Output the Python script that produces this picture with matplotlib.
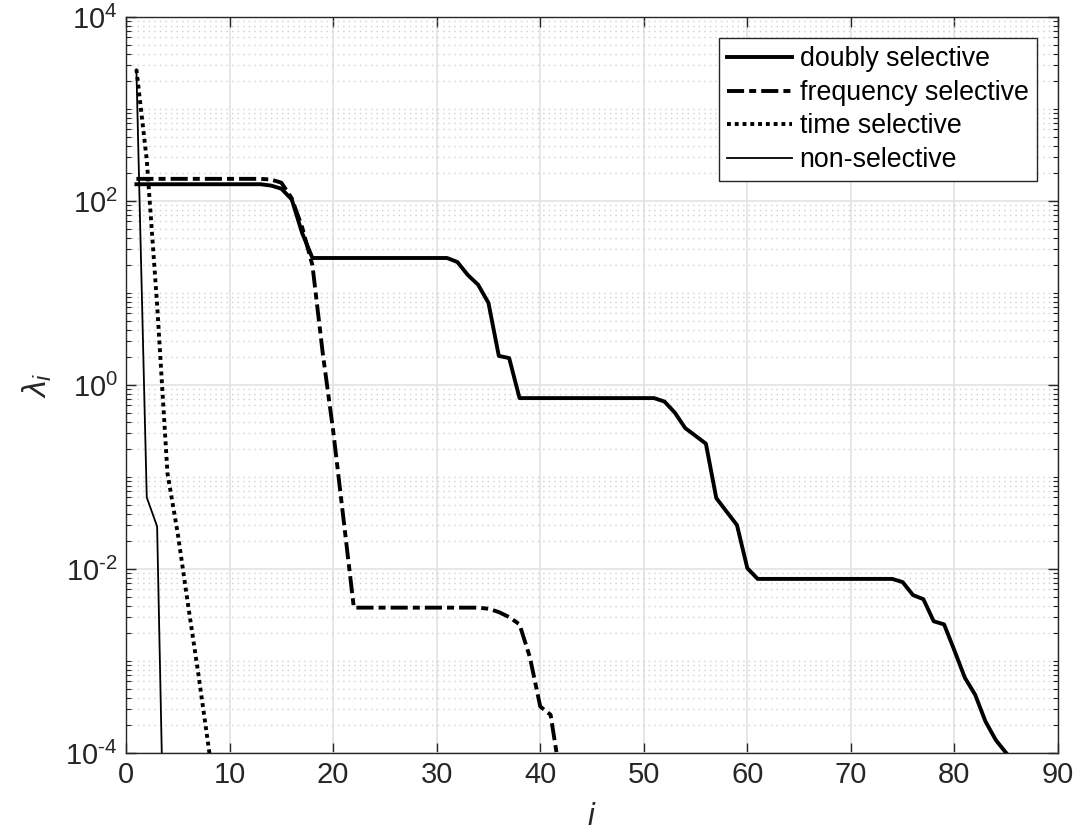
import matplotlib
matplotlib.use('Agg')
import matplotlib.pyplot as plt
import numpy as np
from matplotlib.ticker import FixedLocator, NullFormatter

plt.rcParams['font.family'] = ['Liberation Sans', 'DejaVu Sans']
plt.rcParams['mathtext.fontset'] = 'custom'
plt.rcParams['mathtext.rm'] = 'Liberation Sans'
plt.rcParams['mathtext.it'] = 'Liberation Sans:italic'

# eigenvalue profiles (index, value)
i_dbl = [1, 13, 14, 15, 16, 17, 18, 31, 32, 33, 34, 35, 36, 37, 38, 51, 52, 53, 54, 55,
         56, 57, 58, 59, 60, 61, 74, 75, 76, 77, 78, 79, 80, 81, 82, 83, 84, 85]
v_dbl = [152, 152, 147, 136, 104, 45, 24, 24, 21.7, 15.7, 12.3, 7.8, 2.07, 1.96, 0.72, 0.72, 0.66, 0.5, 0.34, 0.28,
         0.23, 0.059, 0.042, 0.030, 0.0102, 0.0078, 0.0078, 0.0072, 0.0052, 0.0047, 0.0027, 0.0025, 0.0013, 6.6e-4, 4.3e-4, 2.2e-4, 1.38e-4, 1.0e-4]

i_frq = [1, 13, 14, 15, 16, 17, 18, 19, 20, 21, 22, 34, 35, 36, 37, 38, 39, 40, 41, 42]
v_frq = [174, 174, 171, 158, 107, 52, 20, 2.2, 0.32, 0.035, 0.0038, 0.0038, 0.0037, 0.0034, 0.003, 0.0025, 0.0011, 3.2e-4, 2.6e-4, 5e-5]

i_tim = [1, 2, 3, 4, 5, 6, 7, 8, 9]
v_tim = [2700, 280, 7.5, 0.11, 0.024, 0.004, 7e-4, 1.1e-4, 1.6e-5]

i_non = [1, 2, 3, 4]
v_non = [2700, 0.06, 0.029, 1e-7]

labels = ['doubly selective', 'frequency selective', 'time selective', 'non-selective']

xticks = [0, 10, 20, 30, 40, 50, 60, 70, 80, 90]
yticks = [1e-4, 1e-2, 1e0, 1e2, 1e4]
yticklabels = [r'$10^{\text{-}4}$', r'$10^{\text{-}2}$', r'$10^{0}$', r'$10^{2}$', r'$10^{4}$']

fig = plt.figure(figsize=(10.81, 8.36), dpi=100)
ax = fig.add_axes([0.1166, 0.0993, 0.8621, 0.8804])

ax.plot(i_dbl, v_dbl, color='k', lw=2.8, label=labels[0])
ax.plot(i_frq, v_frq, color='k', lw=2.8, linestyle=(0, (4.4, 1.3, 1.8, 1.3)), label=labels[1])
ax.plot(i_tim, v_tim, color='k', lw=2.8, linestyle=(0, (1, 1)), label=labels[2])
ax.plot(i_non, v_non, color='k', lw=1.3, label=labels[3])

ax.set_yscale('log')
ax.set_xlim(0, 90)
ax.set_ylim(1e-4, 1e4)
ax.set_xticks(xticks)
ax.set_yticks(yticks)
ax.set_yticklabels(yticklabels)
minor = [m * 10.0 ** k for k in range(-4, 4) for m in range(2, 10)] + [10.0 ** k for k in (-3, -1, 1, 3)]
ax.yaxis.set_minor_locator(FixedLocator(minor))
ax.yaxis.set_minor_formatter(NullFormatter())

ax.grid(True, which='major', color='#e3e3e3', lw=1.2)
ax.grid(True, which='minor', axis='y', color='#cfcfcf', lw=1.0, linestyle=(0, (1, 3)))
ax.set_axisbelow(True)

for s in ax.spines.values():
    s.set_color('#262626')
    s.set_linewidth(1.0)
ax.tick_params(which='both', direction='in', top=True, right=True, colors='#262626',
               labelsize=21, labelcolor='#262626')
ax.tick_params(which='major', length=7, width=1.0, pad=6)
ax.tick_params(which='minor', length=3.5, width=0.8)

ax.set_xlabel(r'$i$', fontsize=22, color='#262626', labelpad=9)
ax.set_ylabel(r'$\lambda_i$', fontsize=24, color='#262626', labelpad=8)

leg = ax.legend(loc='upper right', fontsize=19.3, fancybox=False, framealpha=1,
                edgecolor='#262626', handlelength=2.4, handletextpad=0.3,
                borderpad=0.3, labelspacing=0.28, borderaxespad=0.8)
leg.get_frame().set_linewidth(1.0)

fig.savefig('out.png', dpi=100)
